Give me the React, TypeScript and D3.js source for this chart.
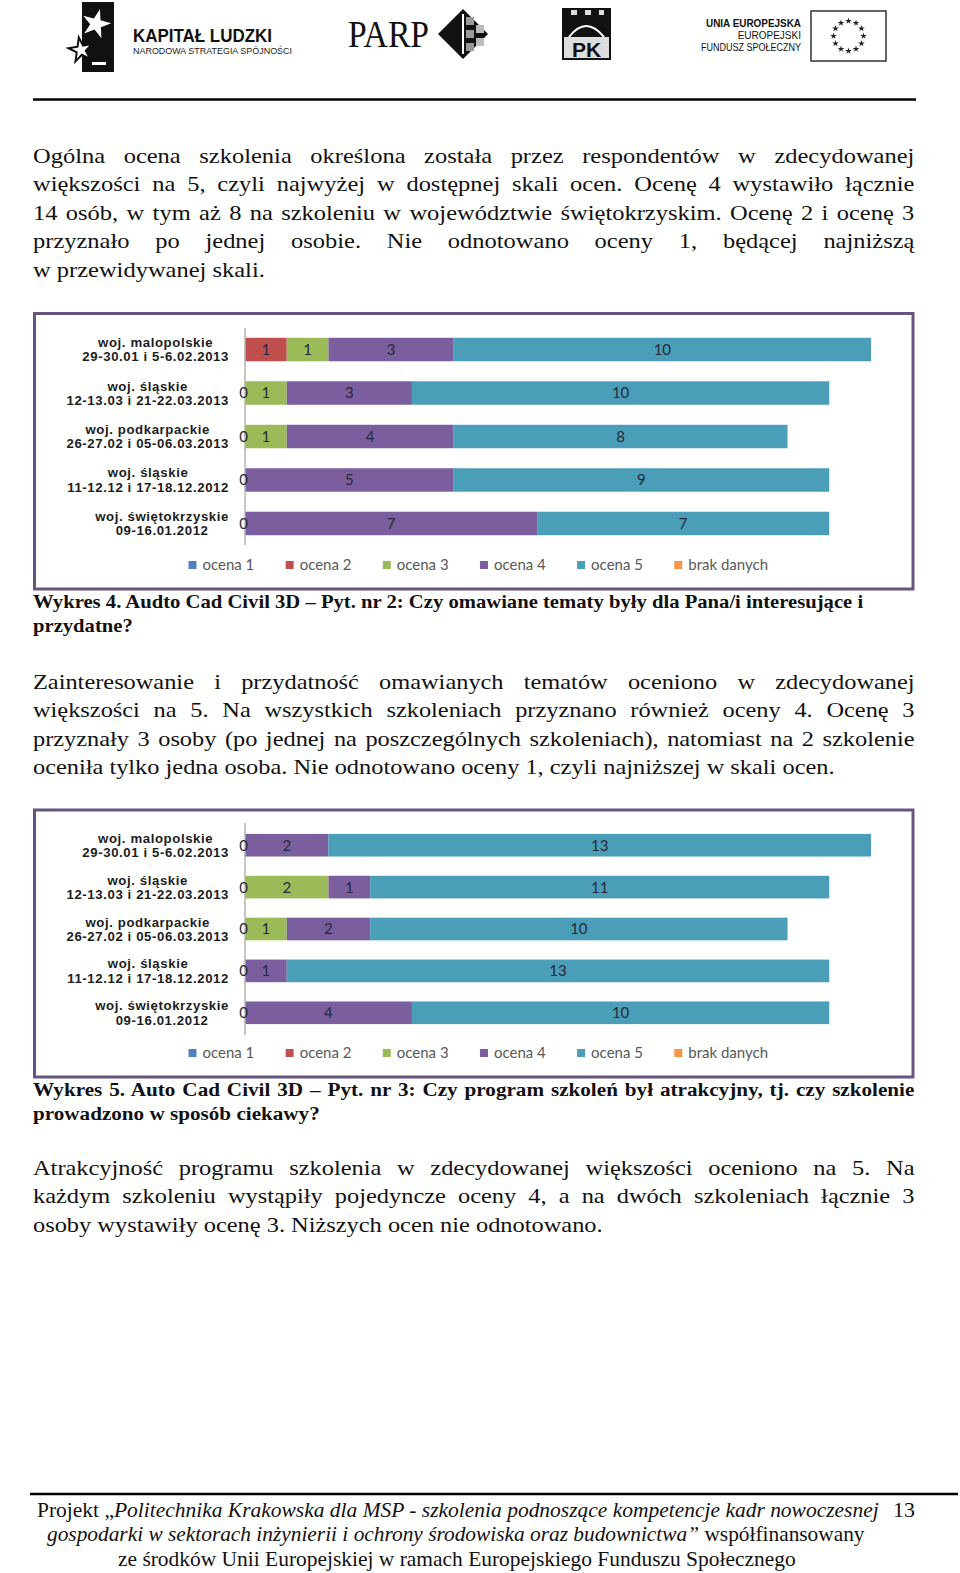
import React, { useLayoutEffect, useRef } from "react";
import * as d3 from "d3";

// ---------------- data ----------------
const regionNames = ["woj. malopolskie", "woj. śląskie", "woj. podkarpackie", "woj. śląskie", "woj. świętokrzyskie"];
const trainingDates = ["29-30.01 i 5-6.02.2013", "12-13.03 i 21-22.03.2013", "26-27.02 i 05-06.03.2013", "11-12.12 i 17-18.12.2012", "09-16.01.2012"];
const seriesNames = ["ocena 1", "ocena 2", "ocena 3", "ocena 4", "ocena 5", "brak danych"];
const seriesColors = ["#4f81bd", "#c0504d", "#9bbb59", "#7b5e9e", "#4a9eb7", "#f79646"];

type V = number | null;
// Wykres 4 – Pyt. nr 2
const w4_ocena1: V[] = [null, null, null, null, null];
const w4_ocena2: V[] = [1, 0, 0, 0, 0];
const w4_ocena3: V[] = [1, 1, 1, null, null];
const w4_ocena4: V[] = [3, 3, 4, 5, 7];
const w4_ocena5: V[] = [10, 10, 8, 9, 7];
const w4_brak: V[] = [null, null, null, null, null];
// Wykres 5 – Pyt. nr 3
const w5_ocena1: V[] = [null, null, null, null, null];
const w5_ocena2: V[] = [0, 0, 0, 0, 0];
const w5_ocena3: V[] = [null, 2, 1, null, null];
const w5_ocena4: V[] = [2, 1, 2, 1, 4];
const w5_ocena5: V[] = [13, 11, 10, 13, 10];
const w5_brak: V[] = [null, null, null, null, null];
const axisMax = 15;

// ---------------- page text ----------------
const para1Lines = [
  "Ogólna ocena szkolenia określona została przez respondentów w zdecydowanej",
  "większości na 5, czyli najwyżej w dostępnej skali ocen. Ocenę 4 wystawiło łącznie",
  "14 osób, w tym aż 8 na szkoleniu w województwie świętokrzyskim. Ocenę 2 i ocenę 3",
  "przyznało po jednej osobie. Nie odnotowano oceny 1, będącej najniższą",
  "w przewidywanej skali.",
];
const caption4Lines = [
  "Wykres 4. Audto Cad Civil 3D – Pyt. nr 2: Czy omawiane tematy były dla Pana/i interesujące i",
  "przydatne?",
];
const para2Lines = [
  "Zainteresowanie i przydatność omawianych tematów oceniono w zdecydowanej",
  "większości na 5. Na wszystkich szkoleniach przyznano również oceny 4. Ocenę 3",
  "przyznały 3 osoby (po jednej na poszczególnych szkoleniach), natomiast na 2 szkolenie",
  "oceniła tylko jedna osoba. Nie odnotowano oceny 1, czyli najniższej w skali ocen.",
];
const caption5Lines = [
  "Wykres 5. Auto Cad Civil 3D – Pyt. nr 3: Czy program szkoleń był atrakcyjny, tj. czy szkolenie",
  "prowadzono w sposób ciekawy?",
];
const para3Lines = [
  "Atrakcyjność programu szkolenia w zdecydowanej większości oceniono na 5. Na",
  "każdym szkoleniu wystąpiły pojedyncze oceny 4, a na dwóch szkoleniach łącznie 3",
  "osoby wystawiły ocenę 3. Niższych ocen nie odnotowano.",
];

const SERIF = "'Liberation Serif', 'Times New Roman', serif";
const SANS = "'Liberation Sans', Arial, sans-serif";
const LATO = "Lato, 'Open Sans', sans-serif";

// ---------------- chart ----------------
function BarChart(props: {
  series: V[][];
  frame: [number, number];
  plot: [number, number];
  outerPad: number;
  legendY: number;
}) {
  const { series, frame, plot, outerPad, legendY } = props;
  const x = d3.scaleLinear().domain([0, axisMax]).range([245, 871]);
  const y = d3
    .scaleBand<number>()
    .domain(d3.range(regionNames.length))
    .range(plot)
    .paddingInner(0.46)
    .paddingOuter(outerPad);

  const segs: any[] = [];
  regionNames.forEach((_, i) => {
    let cum = 0;
    series.forEach((vals, s) => {
      const v = vals[i];
      if (v === null) return;
      segs.push({ i, s, x0: cum, x1: cum + v, v });
      cum += v;
    });
  });

  return (
    <g>
      <rect x={34.5} y={frame[0]} width={878.5} height={frame[1] - frame[0]} fill="#fff" stroke="#66557f" strokeWidth={3} />
      {segs.filter((d) => d.v > 0).map((d, k) => (
        <rect key={"r" + k} x={x(d.x0)} y={y(d.i)} width={x(d.x1) - x(d.x0)} height={y.bandwidth()} fill={seriesColors[d.s]} />
      ))}
      <line x1={245} x2={245} y1={plot[0]} y2={plot[1]} stroke="#b3b3b3" strokeWidth={1.5} />
      {segs.map((d, k) => (
        <text
          key={"t" + k}
          x={x((d.x0 + d.x1) / 2) - (d.v === 0 ? 1.5 : 0)}
          y={(y(d.i) as number) + y.bandwidth() / 2}
          dy="0.36em"
          textAnchor="middle"
          fontFamily={LATO}
          fontSize={15}
          fill="#27293a"
        >
          {d.v}
        </text>
      ))}
      {regionNames.map((r, i) => {
        const c = (y(i) as number) + y.bandwidth() / 2;
        return (
          <g key={"c" + i} className="cat" data-right={229}>
            <text x={229} y={c - 2.5} textAnchor="end" fontFamily={SANS} fontWeight="bold" fontSize={13.2} letterSpacing={0.6} fill="#1c1c1c">
              {r}
            </text>
            <text x={229} y={c + 11.8} textAnchor="end" fontFamily={SANS} fontWeight="bold" fontSize={13.2} letterSpacing={0.6} fill="#1c1c1c">
              {trainingDates[i]}
            </text>
          </g>
        );
      })}
      <g className="legend" data-x0={188.5} data-x1={768} transform={`translate(0,${legendY})`}>
        {seriesNames.map((n, s) => (
          <g key={n} className="legend-item">
            <rect x={0} y={-4} width={8} height={8} fill={seriesColors[s]} />
            <text x={14} y={0} dy="0.35em" fontFamily={LATO} fontSize={15} fill="#595959">
              {n}
            </text>
          </g>
        ))}
      </g>
    </g>
  );
}

// Block of text lines. refLine/refWidth set the horizontal glyph scale of the block;
// justified lines are then stretched to the full column width by word spacing.
function TextBlock(props: {
  lines: string[];
  y0: number;
  lh: number;
  size: number;
  bold?: boolean;
  justify: boolean[];
  refLine: number;
  refWidth: number;
}) {
  const { lines, y0, lh, size, bold, justify, refLine, refWidth } = props;
  return (
    <g className="tblock" data-ref={refLine} data-refw={refWidth}>
      {lines.map((l, i) => (
        <text
          key={i}
          x={33}
          y={y0 + i * lh}
          fontFamily={SERIF}
          fontSize={size}
          fontWeight={bold ? "bold" : "normal"}
          fill="#111"
          data-just={justify[i] ? 1 : 0}
        >
          {l}
        </text>
      ))}
    </g>
  );
}

function Header() {
  const star = d3.symbol(d3.symbolStar, 14)();
  const bigStar = d3.symbol(d3.symbolStar, 260)();
  const midStar = d3.symbol(d3.symbolStar, 180)();
  const stars = d3.range(12).map((k) => {
    const a = (k / 12) * Math.PI * 2;
    return [848.5 + 15 * Math.cos(a), 36 + 15 * Math.sin(a)];
  });
  return (
    <g>
      {/* Kapitał Ludzki */}
      <rect x={82} y={2} width={32} height={70} fill="#111" />
      <path d={bigStar as string} transform="translate(96,24) rotate(15)" fill="#fff" />
      <path d={midStar as string} transform="translate(81,50) rotate(-10)" fill="#fff" stroke="#111" strokeWidth={2} />
      <rect x={92} y={62} width={14} height={3} fill="#fff" />
      <text x={133} y={42} fontFamily={SANS} fontWeight="bold" fontSize={18} textLength={139} lengthAdjust="spacingAndGlyphs" fill="#111">
        KAPITAŁ LUDZKI
      </text>
      <text x={133} y={54} fontFamily={SANS} fontSize={8.5} textLength={159} lengthAdjust="spacingAndGlyphs" fill="#222">
        NARODOWA STRATEGIA SPÓJNOŚCI
      </text>
      {/* PARP */}
      <text x={348} y={47} fontFamily={SERIF} fontSize={38} textLength={81} lengthAdjust="spacingAndGlyphs" fill="#111">
        PARP
      </text>
      <polygon points="438,34 463,9 488,34 463,59" fill="#111" />
      <rect x={466} y={17} width={8} height={8} fill="#999" />
      <rect x={476} y={25} width={8} height={8} fill="#bbb" />
      <rect x={466} y={30} width={8} height={8} fill="#999" />
      <rect x={476} y={38} width={8} height={8} fill="#bbb" />
      <rect x={466} y={43} width={8} height={8} fill="#999" />
      <line x1={463} x2={463} y1={14} y2={54} stroke="#fff" strokeWidth={2} />
      {/* PK */}
      <rect x={563} y={9} width={47} height={50} fill="#ddd" stroke="#111" strokeWidth={2} />
      <path d="M563,9 h8 v6 h6 v-6 h8 v6 h6 v-6 h8 v6 h5 v-6 h6 v28 h-47 z" fill="#111" />
      <path d="M569,37 q17,-22 35,0" fill="none" stroke="#fff" strokeWidth={2} />
      <text x={586.5} y={57} textAnchor="middle" fontFamily={SANS} fontWeight="bold" fontSize={21} fill="#111">
        PK
      </text>
      {/* UE */}
      <text x={801} y={27} textAnchor="end" fontFamily={SANS} fontWeight="bold" fontSize={10.5} textLength={95} lengthAdjust="spacingAndGlyphs" fill="#111">
        UNIA EUROPEJSKA
      </text>
      <text x={801} y={39} textAnchor="end" fontFamily={SANS} fontSize={10} fill="#111">
        EUROPEJSKI
      </text>
      <text x={801} y={51} textAnchor="end" fontFamily={SANS} fontSize={10} textLength={100} lengthAdjust="spacingAndGlyphs" fill="#111">
        FUNDUSZ SPOŁECZNY
      </text>
      <rect x={811} y={11} width={75} height={50} fill="#fff" stroke="#333" strokeWidth={1.5} />
      {stars.map((p, k) => (
        <path key={k} d={star as string} transform={`translate(${p[0]},${p[1]})`} fill="#222" />
      ))}
      <line x1={33} x2={916} y1={99.5} y2={99.5} stroke="#000" strokeWidth={2.5} />
    </g>
  );
}

function Footer() {
  return (
    <g fontFamily={SERIF} fontSize={21} fill="#111">
      <line x1={30} x2={958} y1={1494} y2={1494} stroke="#000" strokeWidth={2.5} />
      <text x={37} y={1517} data-scale={842}>
        Projekt „<tspan fontStyle="italic">Politechnika Krakowska dla MSP - szkolenia podnoszące kompetencje kadr nowoczesnej</tspan>
      </text>
      <text x={893} y={1517} data-scale={22}>
        13
      </text>
      <text x={47} y={1541.5} data-scale={818}>
        <tspan fontStyle="italic">gospodarki w sektorach inżynierii i ochrony środowiska oraz budownictwa”</tspan> współfinansowany
      </text>
      <text x={118} y={1566} data-scale={678}>
        ze środków Unii Europejskiej w ramach Europejskiego Funduszu Społecznego
      </text>
    </g>
  );
}

const COLUMN_W = 882;

export default function App() {
  const ref = useRef<SVGSVGElement>(null);
  useLayoutEffect(() => {
    const svg = ref.current;
    if (!svg) return;
    svg.querySelectorAll<SVGGElement>("g.tblock").forEach((g) => {
      const lines = Array.from(g.querySelectorAll<SVGTextElement>("text"));
      const refIdx = +(g.getAttribute("data-ref") as string);
      const refW = +(g.getAttribute("data-refw") as string);
      const k = refW / lines[refIdx].getComputedTextLength();
      lines.forEach((el) => {
        const nat = el.getComputedTextLength();
        if (el.getAttribute("data-just") === "1") {
          const spaces = ((el.textContent || "").match(/ /g) || []).length;
          if (spaces > 0) el.setAttribute("word-spacing", ((COLUMN_W / k - nat) / spaces).toFixed(3));
        }
        el.setAttribute("transform", `translate(33,0) scale(${k},1) translate(-33,0)`);
      });
    });
    svg.querySelectorAll<SVGTextElement>("text[data-scale]").forEach((el) => {
      const target = +(el.getAttribute("data-scale") as string);
      const nat = el.getComputedTextLength();
      const x0 = +(el.getAttribute("x") as string);
      const k = target / nat;
      el.setAttribute("transform", `translate(${x0},0) scale(${k},1) translate(${-x0},0)`);
    });
    svg.querySelectorAll<SVGGElement>("g.cat").forEach((g) => {
      const ts = Array.from(g.querySelectorAll("text"));
      const ws = ts.map((t) => t.getComputedTextLength());
      const right = +(g.getAttribute("data-right") as string);
      const cx = right - Math.max(...ws) / 2;
      ts.forEach((t) => {
        t.setAttribute("x", String(cx));
        t.setAttribute("text-anchor", "middle");
      });
    });
    svg.querySelectorAll<SVGGElement>("g.legend").forEach((g) => {
      const x0 = +(g.getAttribute("data-x0") as string);
      const x1 = +(g.getAttribute("data-x1") as string);
      const items = Array.from(g.querySelectorAll<SVGGElement>("g.legend-item"));
      const ws = items.map((it) => 14 + (it.querySelector("text") as SVGTextElement).getComputedTextLength());
      const gap = (x1 - x0 - d3.sum(ws)) / (items.length - 1);
      let cx = x0;
      items.forEach((it, k) => {
        it.setAttribute("transform", `translate(${cx},0)`);
        cx += ws[k] + gap;
      });
    });
  }, []);

  return (
    <svg
      ref={ref}
      width={960}
      height={1573}
      viewBox="0 0 960 1573"
      style={{ position: "absolute", left: 0, top: 0, display: "block", background: "#fff" }}
    >
      <rect width={960} height={1573} fill="#fff" />
      <Header />
      <TextBlock lines={para1Lines} y0={163} lh={28.5} size={22} justify={[true, true, true, true, false]} refLine={4} refWidth={232} />
      <BarChart
        series={[w4_ocena1, w4_ocena2, w4_ocena3, w4_ocena4, w4_ocena5, w4_brak]}
        frame={[313.5, 589]}
        plot={[328, 545]}
        outerPad={0.225}
        legendY={565}
      />
      <TextBlock lines={caption4Lines} y0={608} lh={24.5} size={18} bold justify={[false, false]} refLine={0} refWidth={831} />
      <TextBlock lines={para2Lines} y0={689} lh={28.5} size={22} justify={[true, true, true, false]} refLine={3} refWidth={802} />
      <BarChart
        series={[w5_ocena1, w5_ocena2, w5_ocena3, w5_ocena4, w5_ocena5, w5_brak]}
        frame={[810, 1077]}
        plot={[823, 1035]}
        outerPad={0.26}
        legendY={1053}
      />
      <TextBlock lines={caption5Lines} y0={1096} lh={24} size={18} bold justify={[true, false]} refLine={1} refWidth={287} />
      <TextBlock lines={para3Lines} y0={1175} lh={28.5} size={22} justify={[true, true, false]} refLine={2} refWidth={570} />
      <Footer />
    </svg>
  );
}
